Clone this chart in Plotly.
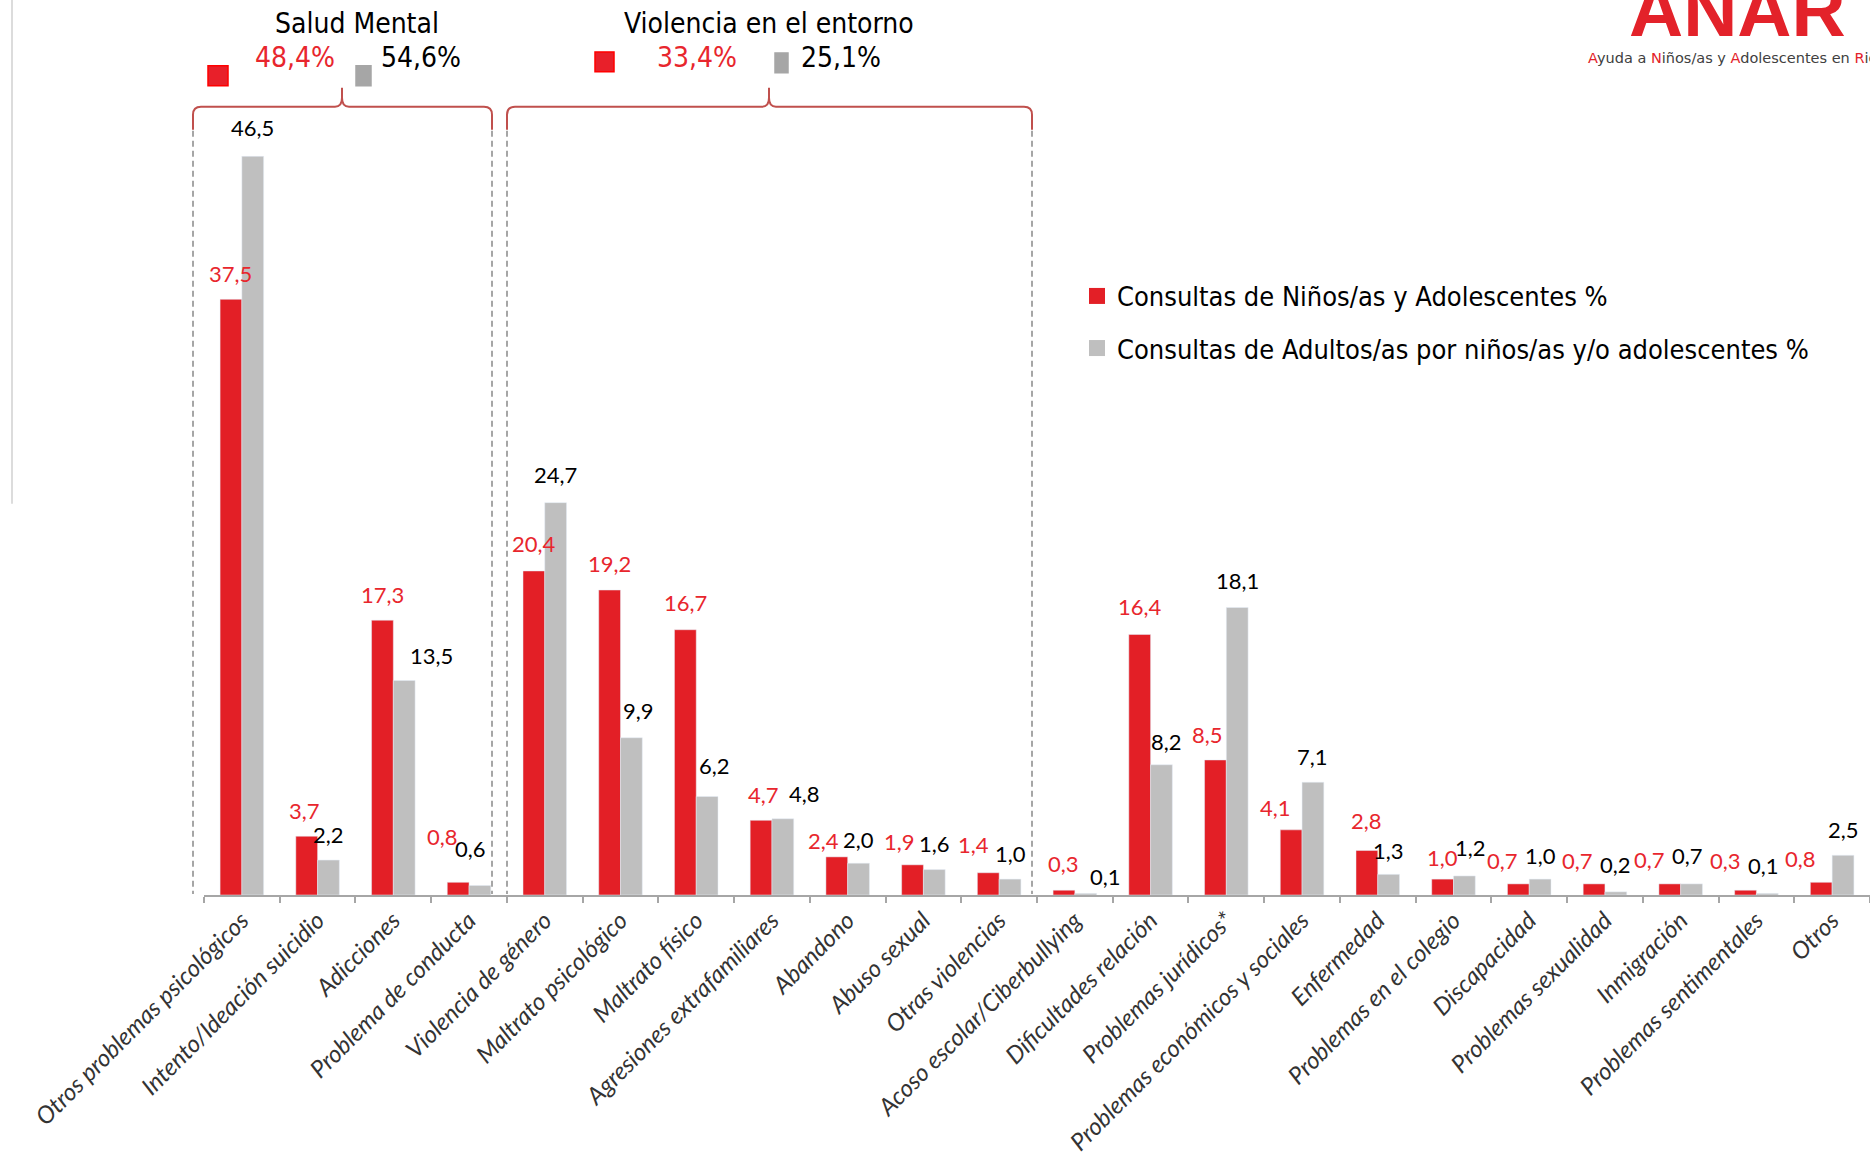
import plotly.graph_objects as go

# ---------------- data ----------------
categories = [
    "Otros problemas psicológicos", "Intento/Ideación suicidio", "Adicciones", "Problema de conducta",
    "Violencia de género", "Maltrato psicológico", "Maltrato físico", "Agresiones extrafamiliares",
    "Abandono", "Abuso sexual", "Otras violencias", "Acoso escolar/Ciberbullying",
    "Dificultades relación", "Problemas jurídicos*", "Problemas económicos y sociales", "Enfermedad",
    "Problemas en el colegio", "Discapacidad", "Problemas sexualidad", "Inmigración",
    "Problemas sentimentales", "Otros",
]
ninos = [37.5, 3.7, 17.3, 0.8, 20.4, 19.2, 16.7, 4.7, 2.4, 1.9, 1.4, 0.3,
         16.4, 8.5, 4.1, 2.8, 1.0, 0.7, 0.7, 0.7, 0.3, 0.8]
adultos = [46.5, 2.2, 13.5, 0.6, 24.7, 9.9, 6.2, 4.8, 2.0, 1.6, 1.0, 0.1,
           8.2, 18.1, 7.1, 1.3, 1.2, 1.0, 0.2, 0.7, 0.1, 2.5]
series_names = ["Consultas de Niños/as y Adolescentes %",
                "Consultas de Adultos/as por niños/as y/o adolescentes %"]
group_titles = ["Salud Mental", "Violencia en el entorno"]
group_ninos = ["48,4%", "33,4%"]
group_adultos = ["54,6%", "25,1%"]

# ---------------- label placement (pixels, separate from data) ----------------
red_dx = [0, -2, 0, -16, 0, 0, 0, 2, -13, -13, -15, 0, 0, -8, -16, 0, 0, -16, -17, -20, -20, -21]
red_dy = [26, 26, 26, 46, 27, 27, 27, 26, 16, 23, 28, 27, 28, 25, 22, 30, 22, 23, 23, 24, 30, 24]
gray_dx = [0, 0, 27, -9, 0, 7, 7, 22, 0, 0, 0, 20, 5, 0, 0, 0, 6, 0, 0, -4, -4, 0]
gray_dy = [29, 26, 25, 37, 28, 27, 31, 25, 24, 26, 26, 17, 23, 27, 26, 24, 28, 24, 27, 28, 28, 26]

# ---------------- style ----------------
W, H = 1870, 1156
L, R, T, B = 204, 0, 0, 259
PW, PH = W - L - R, H - T - B
RED = "#e31f26"
GRAY = "#bfbfbf"
RED_TXT = "#e8262d"
BRACE = "#c0504d"
DASH = "#a6a6a6"
COND = "DejaVu Sans Condensed, DejaVu Sans, sans-serif"
LBL = "Lato, Open Sans, sans-serif"
YMAX = 897 / 15.92
BAR_OFF = 10.9


def px(x):
    return (x - L) / PW


def py(y):
    return 1 - (y - T) / PH


def fmt(v):
    return f"{v:.1f}".replace(".", ",")


fig = go.Figure()
fig.add_trace(go.Bar(x=categories, y=ninos, name=series_names[0], marker_color=RED,
                     showlegend=False, hoverinfo="x+y"))
fig.add_trace(go.Bar(x=categories, y=adultos, name=series_names[1], marker_color=GRAY,
                     showlegend=False, hoverinfo="x+y"))
# legend entries (square swatches)
fig.add_trace(go.Scatter(x=[None], y=[None], mode="markers", name=series_names[0], legendgroup="a",
                         marker=dict(symbol="square", size=16, color=RED)))
fig.add_trace(go.Scatter(x=[None], y=[None], mode="markers", name=series_names[1], legendgroup="b",
                         marker=dict(symbol="square", size=16, color=GRAY)))

annotations = []
for i, c in enumerate(categories):
    annotations.append(dict(x=c, y=ninos[i], xref="x", yref="y", text=fmt(ninos[i]),
                            showarrow=False, xshift=-BAR_OFF + red_dx[i], yshift=red_dy[i],
                            yanchor="middle", font=dict(family=LBL, size=22, color=RED_TXT)))
    annotations.append(dict(x=c, y=adultos[i], xref="x", yref="y", text=fmt(adultos[i]),
                            showarrow=False, xshift=BAR_OFF + gray_dx[i], yshift=gray_dy[i],
                            yanchor="middle", font=dict(family=LBL, size=22, color="#000000")))

# group headers
title_pos = [(357, 24), (769, 24)]
ninos_pos = [(295, 58), (697, 58)]
adult_pos = [(421, 58), (841, 58)]
for k in range(2):
    annotations.append(dict(x=px(title_pos[k][0]), y=py(title_pos[k][1]), xref="paper", yref="paper",
                            text=group_titles[k], showarrow=False, xanchor="center", yanchor="middle",
                            font=dict(family=COND, size=28, color="#000000")))
    annotations.append(dict(x=px(ninos_pos[k][0]), y=py(ninos_pos[k][1]), xref="paper", yref="paper",
                            text=group_ninos[k], showarrow=False, xanchor="center", yanchor="middle",
                            font=dict(family=COND, size=28, color=RED_TXT)))
    annotations.append(dict(x=px(adult_pos[k][0]), y=py(adult_pos[k][1]), xref="paper", yref="paper",
                            text=group_adultos[k], showarrow=False, xanchor="center", yanchor="middle",
                            font=dict(family=COND, size=28, color="#000000")))

# logo (cropped at the top/right edge, as in the reference)
annotations.append(dict(x=px(1627), y=py(10), xref="paper", yref="paper", text="<b>ANAR</b>",
                        showarrow=False, xanchor="left", yanchor="middle",
                        font=dict(family="Liberation Sans, Arial, sans-serif", size=75, color="#e3222a")))
R_ = "<span style='color:#e3222a'>%s</span>"
tag = (R_ % "A") + "yuda a " + (R_ % "N") + "iños/as y " + (R_ % "A") + "dolescentes en " + (R_ % "R") + "iesgo"
annotations.append(dict(x=px(1586), y=py(58), xref="paper", yref="paper", text=tag,
                        showarrow=False, xanchor="left", yanchor="middle",
                        font=dict(family="DejaVu Sans, sans-serif", size=14.5, color="#404040")))

shapes = []
# small squares
sq = [((208, 66, 228, 86), "#e8202a", "#ff0000"), ((356, 66, 371, 86), "#a6a6a6", "#a6a6a6"),
      ((595, 52, 614, 72), "#e8202a", "#ff0000"), ((775, 53, 788, 73), "#a6a6a6", "#a6a6a6")]
for (x0, y0, x1, y1), fc, lc in sq:
    shapes.append(dict(type="rect", xref="paper", yref="paper", x0=px(x0), x1=px(x1), y0=py(y1), y1=py(y0),
                       fillcolor=fc, line=dict(color=lc, width=1.5), layer="above"))


def P(x, y):
    return f"{px(x):.6f},{py(y):.6f}"


def brace(x0, x1, xm, yh=107, ye=130, yt=88, r=8):
    return ("M" + P(x0, ye) + " L" + P(x0, yh + r) + " Q" + P(x0, yh) + " " + P(x0 + r, yh) +
            " L" + P(xm - 7, yh) + " Q" + P(xm, yh) + " " + P(xm, yh - 9) + " L" + P(xm, yt) +
            " M" + P(xm, yt) + " L" + P(xm, yh - 9) + " Q" + P(xm, yh) + " " + P(xm + 7, yh) +
            " L" + P(x1 - r, yh) + " Q" + P(x1, yh) + " " + P(x1, yh + r) + " L" + P(x1, ye))


for x0, x1, xm in [(193, 492, 342), (507, 1032, 769)]:
    shapes.append(dict(type="path", xref="paper", yref="paper", path=brace(x0, x1, xm),
                       line=dict(color=BRACE, width=2)))
    for xx in (x0, x1):
        shapes.append(dict(type="line", xref="paper", yref="paper", x0=px(xx), x1=px(xx),
                           y0=py(131), y1=py(896), line=dict(color=DASH, width=2, dash="6px,4px")))

# faint vertical line at far left
shapes.append(dict(type="line", xref="paper", yref="paper", x0=px(12), x1=px(12), y0=py(0), y1=py(505),
                   line=dict(color="#dcdcdc", width=2)))

fig.update_layout(
    width=W, height=H, margin=dict(l=L, r=R, t=T, b=B, pad=0),
    paper_bgcolor="white", plot_bgcolor="white",
    barmode="group", bargap=0.425, bargroupgap=0,
    showlegend=True,
    legend=dict(x=px(1077), y=py(272.5), xanchor="left", yanchor="top",
                font=dict(family=COND, size=27, color="#000000"),
                traceorder="grouped", tracegroupgap=14, bgcolor="rgba(0,0,0,0)",
                itemclick=False, itemdoubleclick=False),
    annotations=annotations, shapes=shapes,
    xaxis=dict(tickangle=-45, tickson="boundaries", ticks="outside", ticklen=6, tickwidth=2,
               tickcolor="#a6a6a6", showline=True, linecolor="#a6a6a6", linewidth=2,
               showgrid=False, zeroline=False,
               tickfont=dict(family=LBL, size=24, color="#333333", style="italic")),
    yaxis=dict(range=[0, YMAX], visible=False, showgrid=False, zeroline=False),
)

fig.write_html("out.html", config={"displayModeBar": False},
               post_script="document.body.style.margin='0px';")
